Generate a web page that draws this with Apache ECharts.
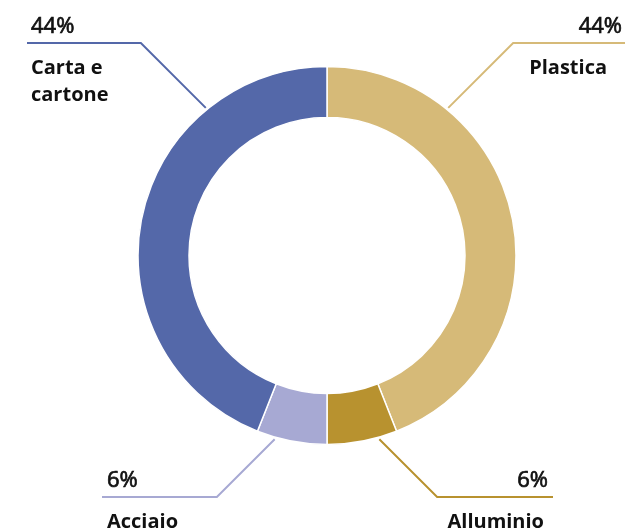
<!DOCTYPE html>
<html>
<head>
<meta charset="utf-8">
<script src="https://cdn.jsdelivr.net/npm/echarts@6/dist/echarts.min.js"></script>
<style>
  html, body { margin: 0; padding: 0; background: #fff; }
  #chart { width: 625px; height: 532px; }
</style>
</head>
<body>
<div id="chart"></div>
<script>
// dati
var categories = ['Plastica', 'Alluminio', 'Acciaio', 'Carta e\ncartone'];
var values = [44, 6, 6, 44];
var colors = ['#d6ba78', '#b8922f', '#a7a9d3', '#5468a9'];

// geometria della ciambella (px)
var CX = 327, CY = 255.5, R_IN = 138, R_OUT = 189;

// posizione etichette: angolo di partenza (gradi da nord, orario), y della linea, fine linea
var labelPos = [
  { angle: 39.4,  lineY: 43,  endX: 625, side: 'right', x: 622, y: 14,  padR: 15 },
  { angle: 164.1, lineY: 497, endX: 553, side: 'right', x: 548, y: 468, padR: 4 },
  { angle: 195.9, lineY: 497, endX: 102, side: 'left',  x: 107, y: 468, padR: 0 },
  { angle: 320.6, lineY: 43,  endX: 27,  side: 'left',  x: 31,  y: 14,  padR: 0 }
];

var FONT = '"Open Sans", Lato, sans-serif';

function linePoints(i) {
  var p = labelPos[i];
  var a = p.angle * Math.PI / 180;
  var rs = R_OUT + 2;
  var sx = CX + rs * Math.sin(a);
  var sy = CY - rs * Math.cos(a);
  var dir = p.side == 'right' ? 1 : -1;
  var ex = sx + dir * Math.abs(sy - p.lineY);
  return [[sx, sy], [ex, p.lineY], [p.endX, p.lineY]];
}

var seriesData = [];
for (var i = 0; i < categories.length; i++) {
  var p = labelPos[i];
  var names = categories[i].split('\n');
  var nameStr = names.map(function (n) { return '{n|' + n + '}'; }).join('\n');
  var al = p.side == 'right' ? 'right' : 'left';
  seriesData.push({
    name: categories[i],
    value: values[i],
    itemStyle: { color: colors[i] },
    labelLine: { lineStyle: { color: colors[i], width: 2 } },
    label: {
      formatter: '{p|' + values[i] + '%}\n{s| }\n' + nameStr,
      align: al,
      rich: {
        p: { fontFamily: FONT, fontSize: 22, lineHeight: 26, color: '#111', align: al,
             textBorderColor: '#111', textBorderWidth: 0.7 },
        s: { fontSize: 10, lineHeight: 15 },
        n: { fontFamily: FONT, fontSize: 20, fontWeight: 'bold', lineHeight: 27, color: '#111',
             align: al, padding: [0, p.padR, 0, 0] }
      }
    }
  });
}

var myChart = echarts.init(document.getElementById('chart'));
var option = {
  animation: false,
  series: [{
    type: 'pie',
    center: [CX, CY],
    radius: [R_IN, R_OUT],
    startAngle: 90,
    clockwise: true,
    avoidLabelOverlap: false,
    emphasis: { disabled: true },
    itemStyle: { borderColor: '#fff', borderWidth: 1.5 },
    label: { show: true, position: 'outside' },
    labelLine: { show: true, length: 20, length2: 20 },
    labelLayout: function (params) {
      var p = labelPos[params.dataIndex];
      return {
        x: p.x,
        y: p.y,
        align: p.side == 'right' ? 'right' : 'left',
        verticalAlign: 'top',
        labelLinePoints: linePoints(params.dataIndex)
      };
    },
    data: seriesData
  }]
};
myChart.setOption(option);
</script>
</body>
</html>
